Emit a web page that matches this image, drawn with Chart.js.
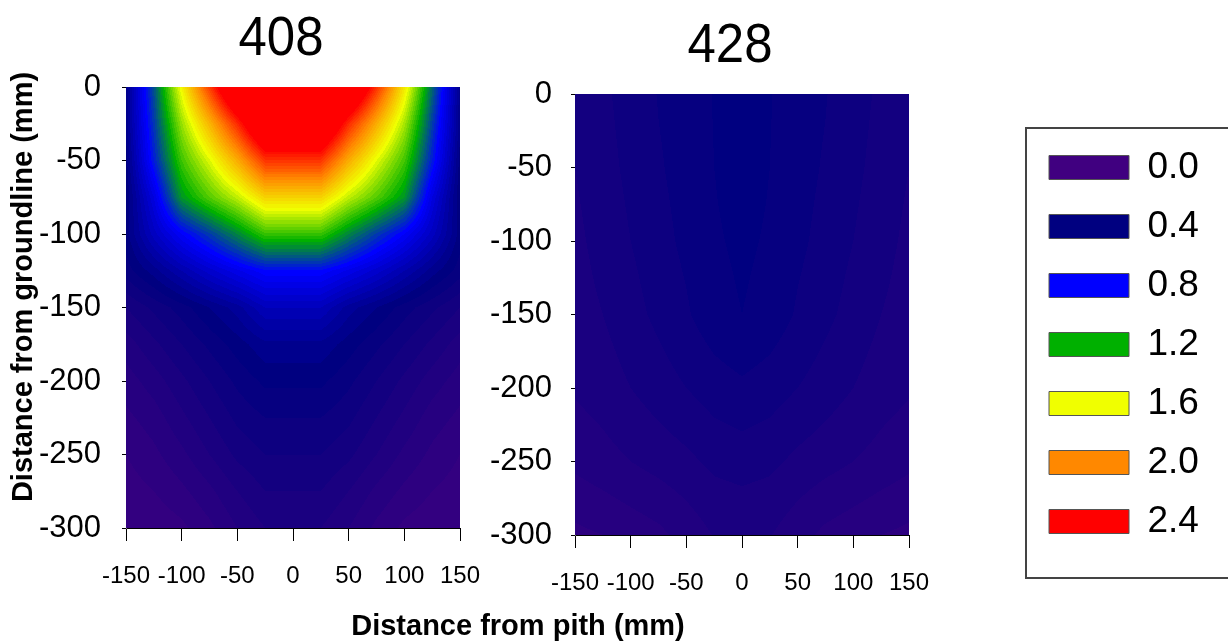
<!DOCTYPE html>
<html>
<head>
<meta charset="utf-8">
<script src="https://cdn.jsdelivr.net/npm/chart.js@4"></script>
<style>
  html, body { margin: 0; padding: 0; background: #fff; }
  body { width: 1228px; height: 642px; position: relative; overflow: hidden; }
  canvas { position: absolute; top: 0; }
  #plotA { left: 0; }
  #plotB { left: 480px; }
  #legend { left: 1025px; top: 127px; }
</style>
</head>
<body>
<canvas id="plotB" width="489" height="642"></canvas>
<canvas id="plotA" width="1035" height="642"></canvas>
<canvas id="legend" width="215" height="452"></canvas>
<script>
// grid nodes (mm)
const xNodes = [-150, -125, -100, -75, -50, -25, 0, 25, 50, 75, 100, 125, 150];
const yNodes = [0, -25, -50, -75, -100, -125, -150, -175, -200, -225, -250, -275, -300];
const xTicks = [-150, -100, -50, 0, 50, 100, 150];
const yTicks = [0, -50, -100, -150, -200, -250, -300];

// values, one row per depth
const values408 = [
  [0.45, 1.00, 1.65, 2.24, 2.85, 3.20, 3.20, 3.20, 2.85, 2.28, 1.70, 1.05, 0.45],
  [0.45, 0.94, 1.47, 1.87, 2.30, 2.81, 2.81, 2.81, 2.30, 1.90, 1.50, 0.96, 0.45],
  [0.42, 0.88, 1.32, 1.59, 1.90, 2.27, 2.27, 2.27, 1.90, 1.60, 1.33, 0.88, 0.42],
  [0.40, 0.72, 1.16, 1.36, 1.54, 1.77, 1.77, 1.77, 1.54, 1.36, 1.16, 0.72, 0.40],
  [0.42, 0.62, 0.80, 0.95, 1.12, 1.31, 1.31, 1.31, 1.12, 0.95, 0.80, 0.62, 0.42],
  [0.38, 0.46, 0.56, 0.66, 0.75, 0.83, 0.83, 0.83, 0.75, 0.66, 0.56, 0.46, 0.38],
  [0.28, 0.33, 0.38, 0.44, 0.50, 0.60, 0.60, 0.60, 0.50, 0.44, 0.38, 0.33, 0.28],
  [0.22, 0.27, 0.32, 0.37, 0.42, 0.47, 0.47, 0.47, 0.42, 0.37, 0.32, 0.27, 0.22],
  [0.18, 0.22, 0.27, 0.32, 0.37, 0.41, 0.41, 0.41, 0.37, 0.32, 0.27, 0.22, 0.18],
  [0.15, 0.18, 0.23, 0.28, 0.33, 0.36, 0.36, 0.36, 0.33, 0.28, 0.23, 0.18, 0.15],
  [0.12, 0.15, 0.19, 0.24, 0.29, 0.32, 0.32, 0.32, 0.29, 0.24, 0.19, 0.15, 0.12],
  [0.10, 0.12, 0.15, 0.19, 0.24, 0.28, 0.28, 0.28, 0.24, 0.19, 0.15, 0.12, 0.10],
  [0.08, 0.09, 0.11, 0.15, 0.20, 0.24, 0.24, 0.24, 0.20, 0.15, 0.11, 0.09, 0.08]
];

const values428 = [
  [0.290, 0.313, 0.335, 0.362, 0.380, 0.402, 0.420, 0.402, 0.380, 0.362, 0.335, 0.313, 0.290],
  [0.285, 0.309, 0.333, 0.359, 0.379, 0.401, 0.418, 0.401, 0.379, 0.359, 0.333, 0.309, 0.285],
  [0.280, 0.305, 0.330, 0.355, 0.378, 0.400, 0.415, 0.400, 0.378, 0.355, 0.330, 0.305, 0.280],
  [0.275, 0.300, 0.325, 0.350, 0.374, 0.398, 0.412, 0.398, 0.374, 0.350, 0.325, 0.300, 0.275],
  [0.270, 0.295, 0.320, 0.345, 0.370, 0.395, 0.408, 0.395, 0.370, 0.345, 0.320, 0.295, 0.270],
  [0.265, 0.288, 0.312, 0.338, 0.362, 0.390, 0.404, 0.390, 0.362, 0.338, 0.312, 0.288, 0.265],
  [0.260, 0.280, 0.305, 0.330, 0.355, 0.385, 0.400, 0.385, 0.355, 0.330, 0.305, 0.280, 0.260],
  [0.252, 0.270, 0.292, 0.315, 0.338, 0.362, 0.377, 0.362, 0.338, 0.315, 0.292, 0.270, 0.252],
  [0.245, 0.260, 0.280, 0.300, 0.320, 0.340, 0.352, 0.340, 0.320, 0.300, 0.280, 0.260, 0.245],
  [0.228, 0.242, 0.260, 0.278, 0.295, 0.315, 0.325, 0.315, 0.295, 0.278, 0.260, 0.242, 0.228],
  [0.210, 0.225, 0.240, 0.255, 0.270, 0.290, 0.298, 0.290, 0.270, 0.255, 0.240, 0.225, 0.210],
  [0.180, 0.193, 0.208, 0.222, 0.242, 0.265, 0.271, 0.265, 0.242, 0.222, 0.208, 0.193, 0.180],
  [0.150, 0.160, 0.175, 0.190, 0.215, 0.242, 0.245, 0.242, 0.215, 0.190, 0.175, 0.160, 0.150]
];

// colour scale
const levels = [0.0, 0.4, 0.8, 1.2, 1.6, 2.0, 2.4];
const levelLabels = ['0.0', '0.4', '0.8', '1.2', '1.6', '2.0', '2.4'];
const levelColors = ['#400080', '#000080', '#0000ff', '#00b000', '#f0ff00', '#ff8800', '#ff0000'];
const BAND = 0.04;

const SANS = "'Liberation Sans', Arial, sans-serif";

function hexToRgb(h) {
  return [1, 3, 5].map(i => parseInt(h.substr(i, 2), 16));
}
const stopRgb = levelColors.map(hexToRgb);

function colorFor(v) {
  let q = Math.floor(v / BAND + 1e-6) * BAND;
  q = Math.max(levels[0], Math.min(levels[levels.length - 1], q));
  for (let i = 0; i < levels.length - 1; i++) {
    if (q <= levels[i + 1]) {
      const t = (q - levels[i]) / (levels[i + 1] - levels[i]);
      const a = stopRgb[i], b = stopRgb[i + 1];
      return [0, 1, 2].map(k => Math.round(a[k] + (b[k] - a[k]) * t));
    }
  }
  return stopRgb[stopRgb.length - 1];
}

function locate(nodes, v) {
  for (let i = 0; i < nodes.length - 1; i++) {
    const t = (v - nodes[i]) / (nodes[i + 1] - nodes[i]);
    if (t >= 0 && t <= 1) return [i, i + 1, t];
  }
  const first = Math.abs(v - nodes[0]) < Math.abs(v - nodes[nodes.length - 1]);
  return first ? [0, 0, 0] : [nodes.length - 1, nodes.length - 1, 0];
}

function toPoints(values) {
  const pts = [];
  yNodes.forEach((yv, r) => xNodes.forEach((xv, c) => pts.push({ x: xv, y: yv, v: values[r][c] })));
  return pts;
}

// fills the plot area from the grid, through the chart's own scales
const contourFill = {
  id: 'contourFill',
  beforeDatasetsDraw(chart) {
    const pts = chart.data.datasets[0].data;
    const grid = yNodes.map(() => []);
    pts.forEach(p => { grid[yNodes.indexOf(p.y)][xNodes.indexOf(p.x)] = p.v; });

    const { ctx, chartArea: a, scales: { x, y } } = chart;
    const left = Math.round(a.left), top = Math.round(a.top);
    const w = Math.round(a.right) - left, h = Math.round(a.bottom) - top;
    const img = ctx.createImageData(w, h);

    for (let j = 0; j < h; j++) {
      const [r0, r1, ty] = locate(yNodes, y.getValueForPixel(top + j + 0.5));
      for (let i = 0; i < w; i++) {
        const [c0, c1, tx] = locate(xNodes, x.getValueForPixel(left + i + 0.5));
        const v = (grid[r0][c0] * (1 - tx) + grid[r0][c1] * tx) * (1 - ty)
                + (grid[r1][c0] * (1 - tx) + grid[r1][c1] * tx) * ty;
        const c = colorFor(v);
        const k = (j * w + i) * 4;
        img.data[k] = c[0]; img.data[k + 1] = c[1]; img.data[k + 2] = c[2]; img.data[k + 3] = 255;
      }
    }
    ctx.putImageData(img, left, top);
  }
};

// panel title above the plot area, plus shared axis captions
const panelText = {
  id: 'panelText',
  afterDraw(chart, args, opts) {
    const { ctx, chartArea: a } = chart;
    ctx.save();
    ctx.fillStyle = '#000';
    ctx.textAlign = 'center';
    ctx.textBaseline = 'alphabetic';
    ctx.font = `56px ${SANS}`;
    ctx.translate((a.left + a.right) / 2 + opts.dx, a.top - opts.gap);
    ctx.scale(0.91, 1);
    ctx.fillText(opts.text, 0, 0);
    ctx.restore();

    if (opts.xCaption) {
      ctx.save();
      ctx.fillStyle = '#000';
      ctx.textAlign = 'center';
      ctx.font = `bold 29px ${SANS}`;
      ctx.fillText(opts.xCaption.text, opts.xCaption.x, opts.xCaption.y);
      ctx.restore();
    }
    if (opts.yCaption) {
      ctx.save();
      ctx.fillStyle = '#000';
      ctx.textAlign = 'center';
      ctx.textBaseline = 'middle';
      ctx.font = `bold 29px ${SANS}`;
      ctx.translate(opts.yCaption.x, opts.yCaption.y);
      ctx.rotate(-Math.PI / 2);
      ctx.fillText(opts.yCaption.text, 0, 0);
      ctx.restore();
    }
  }
};

function plotConfig(values, opts) {
  return {
    type: 'scatter',
    data: { datasets: [{ data: toPoints(values), pointRadius: 0, pointHoverRadius: 0 }] },
    options: {
      responsive: false,
      animation: false,
      events: [],
      layout: { padding: { top: opts.top, right: opts.right, left: 0, bottom: 0 } },
      scales: {
        x: {
          type: 'linear', min: -150, max: 150,
          afterBuildTicks: s => { s.ticks = xTicks.map(v => ({ value: v })); },
          afterFit: s => { s.height = opts.xHeight; },
          ticks: { font: { family: SANS, size: 24 }, color: '#000', padding: 21, autoSkip: false, maxRotation: 0 },
          grid: { drawOnChartArea: false, tickLength: 13, color: '#000' },
          border: { color: '#000' }
        },
        y: {
          type: 'linear', min: -300, max: 0,
          afterBuildTicks: s => { s.ticks = yTicks.map(v => ({ value: v })); },
          afterFit: s => { s.width = opts.yWidth; },
          ticks: { font: { family: SANS, size: 31 }, color: '#000', padding: opts.yPad, autoSkip: false },
          grid: { drawOnChartArea: false, tickLength: 4, color: '#000' },
          border: { color: '#777' }
        }
      },
      plugins: {
        legend: { display: false },
        tooltip: { enabled: false },
        panelText: { text: opts.title, dx: -12, gap: 32, xCaption: opts.xCaption, yCaption: opts.yCaption }
      }
    },
    plugins: [contourFill, panelText]
  };
}

new Chart(document.getElementById('plotB'), plotConfig(values428, {
  title: '428', top: 94, right: 60, xHeight: 107, yWidth: 95, yPad: 19
}));

new Chart(document.getElementById('plotA'), plotConfig(values408, {
  title: '408', top: 87, right: 575, xHeight: 114, yWidth: 126, yPad: 21,
  yCaption: { text: 'Distance from groundline (mm)', x: 24, y: 287 },
  xCaption: { text: 'Distance from pith (mm)', x: 518, y: 635 }
}));

// legend box
const legendFrame = {
  id: 'legendFrame',
  afterDraw(chart) {
    const { ctx, width, height } = chart;
    ctx.save();
    ctx.strokeStyle = '#444';
    ctx.lineWidth = 2;
    ctx.strokeRect(1, 1, width + 10, height - 2);
    ctx.restore();
  }
};

new Chart(document.getElementById('legend'), {
  type: 'bar',
  data: { labels: [], datasets: [] },
  options: {
    responsive: false,
    animation: false,
    events: [],
    layout: { padding: { left: 2, top: 0 } },
    scales: { x: { display: false }, y: { display: false } },
    plugins: {
      tooltip: { enabled: false },
      legend: {
        position: 'left',
        align: 'start',
        maxWidth: 400,
        labels: {
          boxWidth: 80, boxHeight: 24, padding: 22,
          color: '#000',
          font: { family: SANS, size: 37 },
          generateLabels: () => levelLabels.map((t, i) => ({
            text: t, fillStyle: levelColors[i], strokeStyle: '#555', fontColor: '#000',
            lineWidth: 1, hidden: false, index: i
          }))
        }
      }
    }
  },
  plugins: [legendFrame]
});
</script>
</body>
</html>
